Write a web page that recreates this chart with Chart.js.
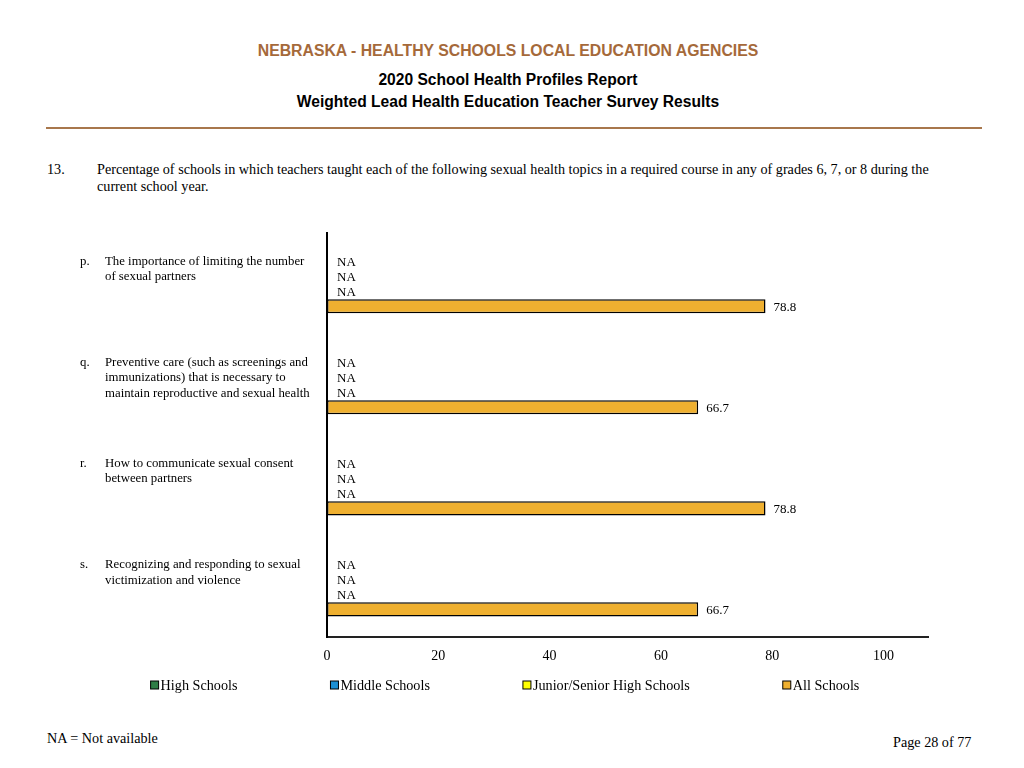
<!DOCTYPE html>
<html>
<head>
<meta charset="utf-8">
<script src="https://cdn.jsdelivr.net/npm/chart.js@4/dist/chart.umd.min.js"></script>
<style>
  html, body { margin: 0; padding: 0; background: #fff; }
  #page { position: relative; width: 1024px; height: 768px; overflow: hidden; }
  .hdr { position: absolute; left: 0; width: 1016px; text-align: center; font-family: "Liberation Sans", Arial, sans-serif; font-weight: bold; }
  .serif { position: absolute; font-family: "Liberation Serif", "Times New Roman", serif; color: #000; font-size: 14.2px; }
  #rule { position: absolute; left: 46px; top: 127px; width: 936px; height: 2px; background: #a8774c; }
  #chart { position: absolute; left: 0; top: 0; }
</style>
</head>
<body>
<div id="page">
  <div class="hdr" style="top:42px;font-size:15.8px;color:#a5693a;">NEBRASKA - HEALTHY SCHOOLS LOCAL EDUCATION AGENCIES</div>
  <div class="hdr" style="top:71px;font-size:15.6px;color:#000;">2020 School Health Profiles Report</div>
  <div class="hdr" style="top:93px;font-size:15.6px;color:#000;">Weighted Lead Health Education Teacher Survey Results</div>
  <div id="rule"></div>
  <div class="serif" style="left:47px;top:161px;">13.</div>
  <div class="serif" style="left:97px;top:161px;line-height:17px;width:900px;">Percentage of schools in which teachers taught each of the following sexual health topics in a required course in any of grades 6, 7, or 8 during the<br>current school year.</div>
  <div class="serif" style="left:47px;top:730px;">NA = Not available</div>
  <div class="serif" style="left:893px;top:734px;">Page 28 of 77</div>
  <canvas id="chart" width="1024" height="768"></canvas>
</div>
<script>
// question items, each wrapped the way the report prints them
const itemLetters = ['p.', 'q.', 'r.', 's.'];
const itemLines = [
  ['The importance of limiting the number', 'of sexual partners'],
  ['Preventive care (such as screenings and', 'immunizations) that is necessary to', 'maintain reproductive and sexual health'],
  ['How to communicate sexual consent', 'between partners'],
  ['Recognizing and responding to sexual', 'victimization and violence']
];

// null = NA (not available)
const highSchools = [null, null, null, null];
const middleSchools = [null, null, null, null];
const juniorSeniorHigh = [null, null, null, null];
const allSchools = [78.8, 66.7, 78.8, 66.7];

const xTicks = [0, 20, 40, 60, 80, 100];

const SERIF = '"Liberation Serif", "Times New Roman", serif';

// item letters and wrapped text to the left of each group
const itemLabels = {
  id: 'itemLabels',
  afterDraw (chart) {
    const ctx = chart.ctx;
    const y = chart.scales.y;
    ctx.save();
    ctx.font = '12.8px ' + SERIF;
    ctx.fillStyle = '#000';
    ctx.textAlign = 'left';
    ctx.textBaseline = 'middle';
    itemLines.forEach((lines, i) => {
      const top = y.getPixelForValue(i) - 22;
      ctx.fillText(itemLetters[i], 80, top);
      lines.forEach((line, k) => ctx.fillText(line, 105, top + k * 15.5));
    });
    ctx.restore();
  }
};

// value or NA beside each bar
const barValues = {
  id: 'barValues',
  afterDatasetsDraw (chart) {
    const ctx = chart.ctx;
    const x0 = chart.scales.x.getPixelForValue(0);
    ctx.save();
    ctx.font = '13px ' + SERIF;
    ctx.fillStyle = '#000';
    ctx.textAlign = 'left';
    ctx.textBaseline = 'middle';
    chart.data.datasets.forEach((ds, di) => {
      chart.getDatasetMeta(di).data.forEach((bar, i) => {
        const v = ds.data[i];
        if (v === null) {
          ctx.fillText('NA', x0 + 10, bar.y + 1.5);
        } else {
          ctx.fillText(v.toFixed(1), bar.x + 8, bar.y + 1);
        }
      });
    });
    ctx.restore();
  }
};

// one-row legend under the axis, fixed gap between entries
const rowLegend = {
  id: 'rowLegend',
  afterDraw (chart) {
    const ctx = chart.ctx;
    const gap = 93, box = 8, textGap = 2;
    const cy = 685;
    ctx.save();
    ctx.font = '14.2px ' + SERIF;
    ctx.textBaseline = 'middle';
    ctx.textAlign = 'left';
    const widths = chart.data.datasets.map(ds => box + textGap + ctx.measureText(ds.label).width);
    const total = widths.reduce((a, b) => a + b, 0) + gap * (widths.length - 1);
    let x = 505 - total / 2;
    chart.data.datasets.forEach((ds, i) => {
      ctx.fillStyle = ds.backgroundColor;
      ctx.fillRect(x, cy - box / 2, box, box);
      ctx.strokeStyle = '#000';
      ctx.lineWidth = 1;
      ctx.strokeRect(x, cy - box / 2, box, box);
      ctx.fillStyle = '#000';
      ctx.fillText(ds.label, x + box + textGap, cy + 1);
      x += widths[i] + gap;
    });
    ctx.restore();
  }
};

new Chart(document.getElementById('chart'), {
  type: 'bar',
  data: {
    labels: itemLetters,
    datasets: [
      { label: 'High Schools', data: highSchools, backgroundColor: '#2f7d46' },
      { label: 'Middle Schools', data: middleSchools, backgroundColor: '#1c8fd3' },
      { label: 'Junior/Senior High Schools', data: juniorSeniorHigh, backgroundColor: '#ffff00' },
      { label: 'All Schools', data: allSchools, backgroundColor: '#efb030' }
    ].map(ds => Object.assign(ds, {
      borderColor: '#000',
      borderWidth: 1.5,
      borderSkipped: false,
      categoryPercentage: 0.6,
      barPercentage: 0.93
    }))
  },
  options: {
    indexAxis: 'y',
    responsive: false,
    animation: false,
    layout: { padding: { left: 319, right: 96, top: 233, bottom: 98 } },
    scales: {
      x: {
        min: 0,
        max: 108,
        afterBuildTicks: scale => { scale.ticks = xTicks.map(v => ({ value: v })); },
        grid: { display: false, drawOnChartArea: false, drawTicks: true, tickLength: 6, color: '#000', tickWidth: 1 },
        border: { color: '#222', width: 2 },
        ticks: { color: '#000', font: { family: SERIF, size: 14 }, padding: 5 }
      },
      y: {
        grid: { display: false },
        border: { color: '#000', width: 2 },
        ticks: { display: false }
      }
    },
    plugins: {
      tooltip: { enabled: false },
      legend: { display: false }
    }
  },
  plugins: [itemLabels, barValues, rowLegend]
});
</script>
</body>
</html>
